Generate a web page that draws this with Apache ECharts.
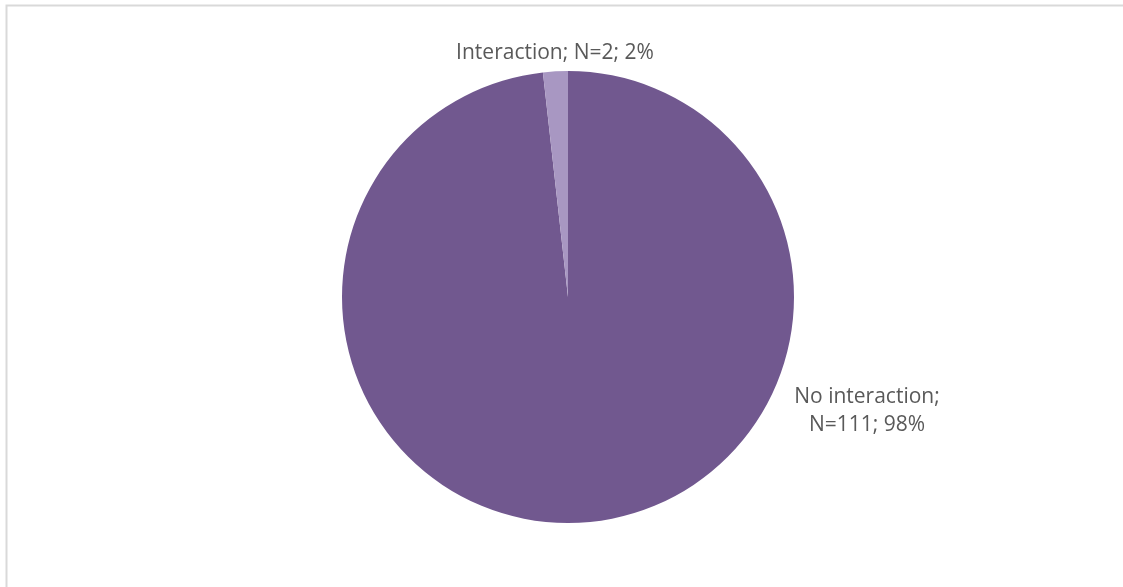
<!DOCTYPE html>
<html>
<head>
<meta charset="utf-8">
<script src="https://cdn.jsdelivr.net/npm/echarts@6/dist/echarts.min.js"></script>
<style>
  html, body { margin: 0; padding: 0; background: #fff; }
  #chart { width: 1123px; height: 587px; }
</style>
</head>
<body>
<div id="chart"></div>
<script>
// Interaction outcome counts
const categories = ['No interaction', 'Interaction'];
const counts = [111, 2];
const percentLabels = ['98%', '2%'];
const sliceColors = ['#71588f', '#a897c2'];

const pieData = categories.map((name, i) => ({
  name: name,
  value: counts[i],
  itemStyle: { color: sliceColors[i] }
}));

const chart = echarts.init(document.getElementById('chart'), null, { renderer: 'canvas' });

chart.setOption({
  animation: false,
  backgroundColor: '#ffffff',
  graphic: [{
    type: 'rect',
    shape: { x: 6.5, y: 5.5, width: 1130, height: 600 },
    style: { fill: 'none', stroke: '#d9d9d9', lineWidth: 2 },
    silent: true
  }],
  series: [{
    type: 'pie',
    center: [568, 297],
    radius: 226,
    startAngle: 90,
    clockwise: true,
    data: pieData,
    itemStyle: { borderWidth: 0 },
    labelLine: { show: false },
    label: {
      show: true,
      position: 'outside',
      fontFamily: 'Open Sans, sans-serif',
      fontSize: 21,
      color: '#595959',
      lineHeight: 28,
      formatter: p => p.dataIndex === 0
        ? p.name + ';\nN=' + counts[p.dataIndex] + '; ' + percentLabels[p.dataIndex]
        : p.name + '; N=' + counts[p.dataIndex] + '; ' + percentLabels[p.dataIndex]
    },
    labelLayout: p => p.dataIndex === 0
      ? { x: 867, y: 411, align: 'center', verticalAlign: 'middle' }
      : { x: 555, y: 53, align: 'center', verticalAlign: 'middle' }
  }]
});
</script>
</body>
</html>
